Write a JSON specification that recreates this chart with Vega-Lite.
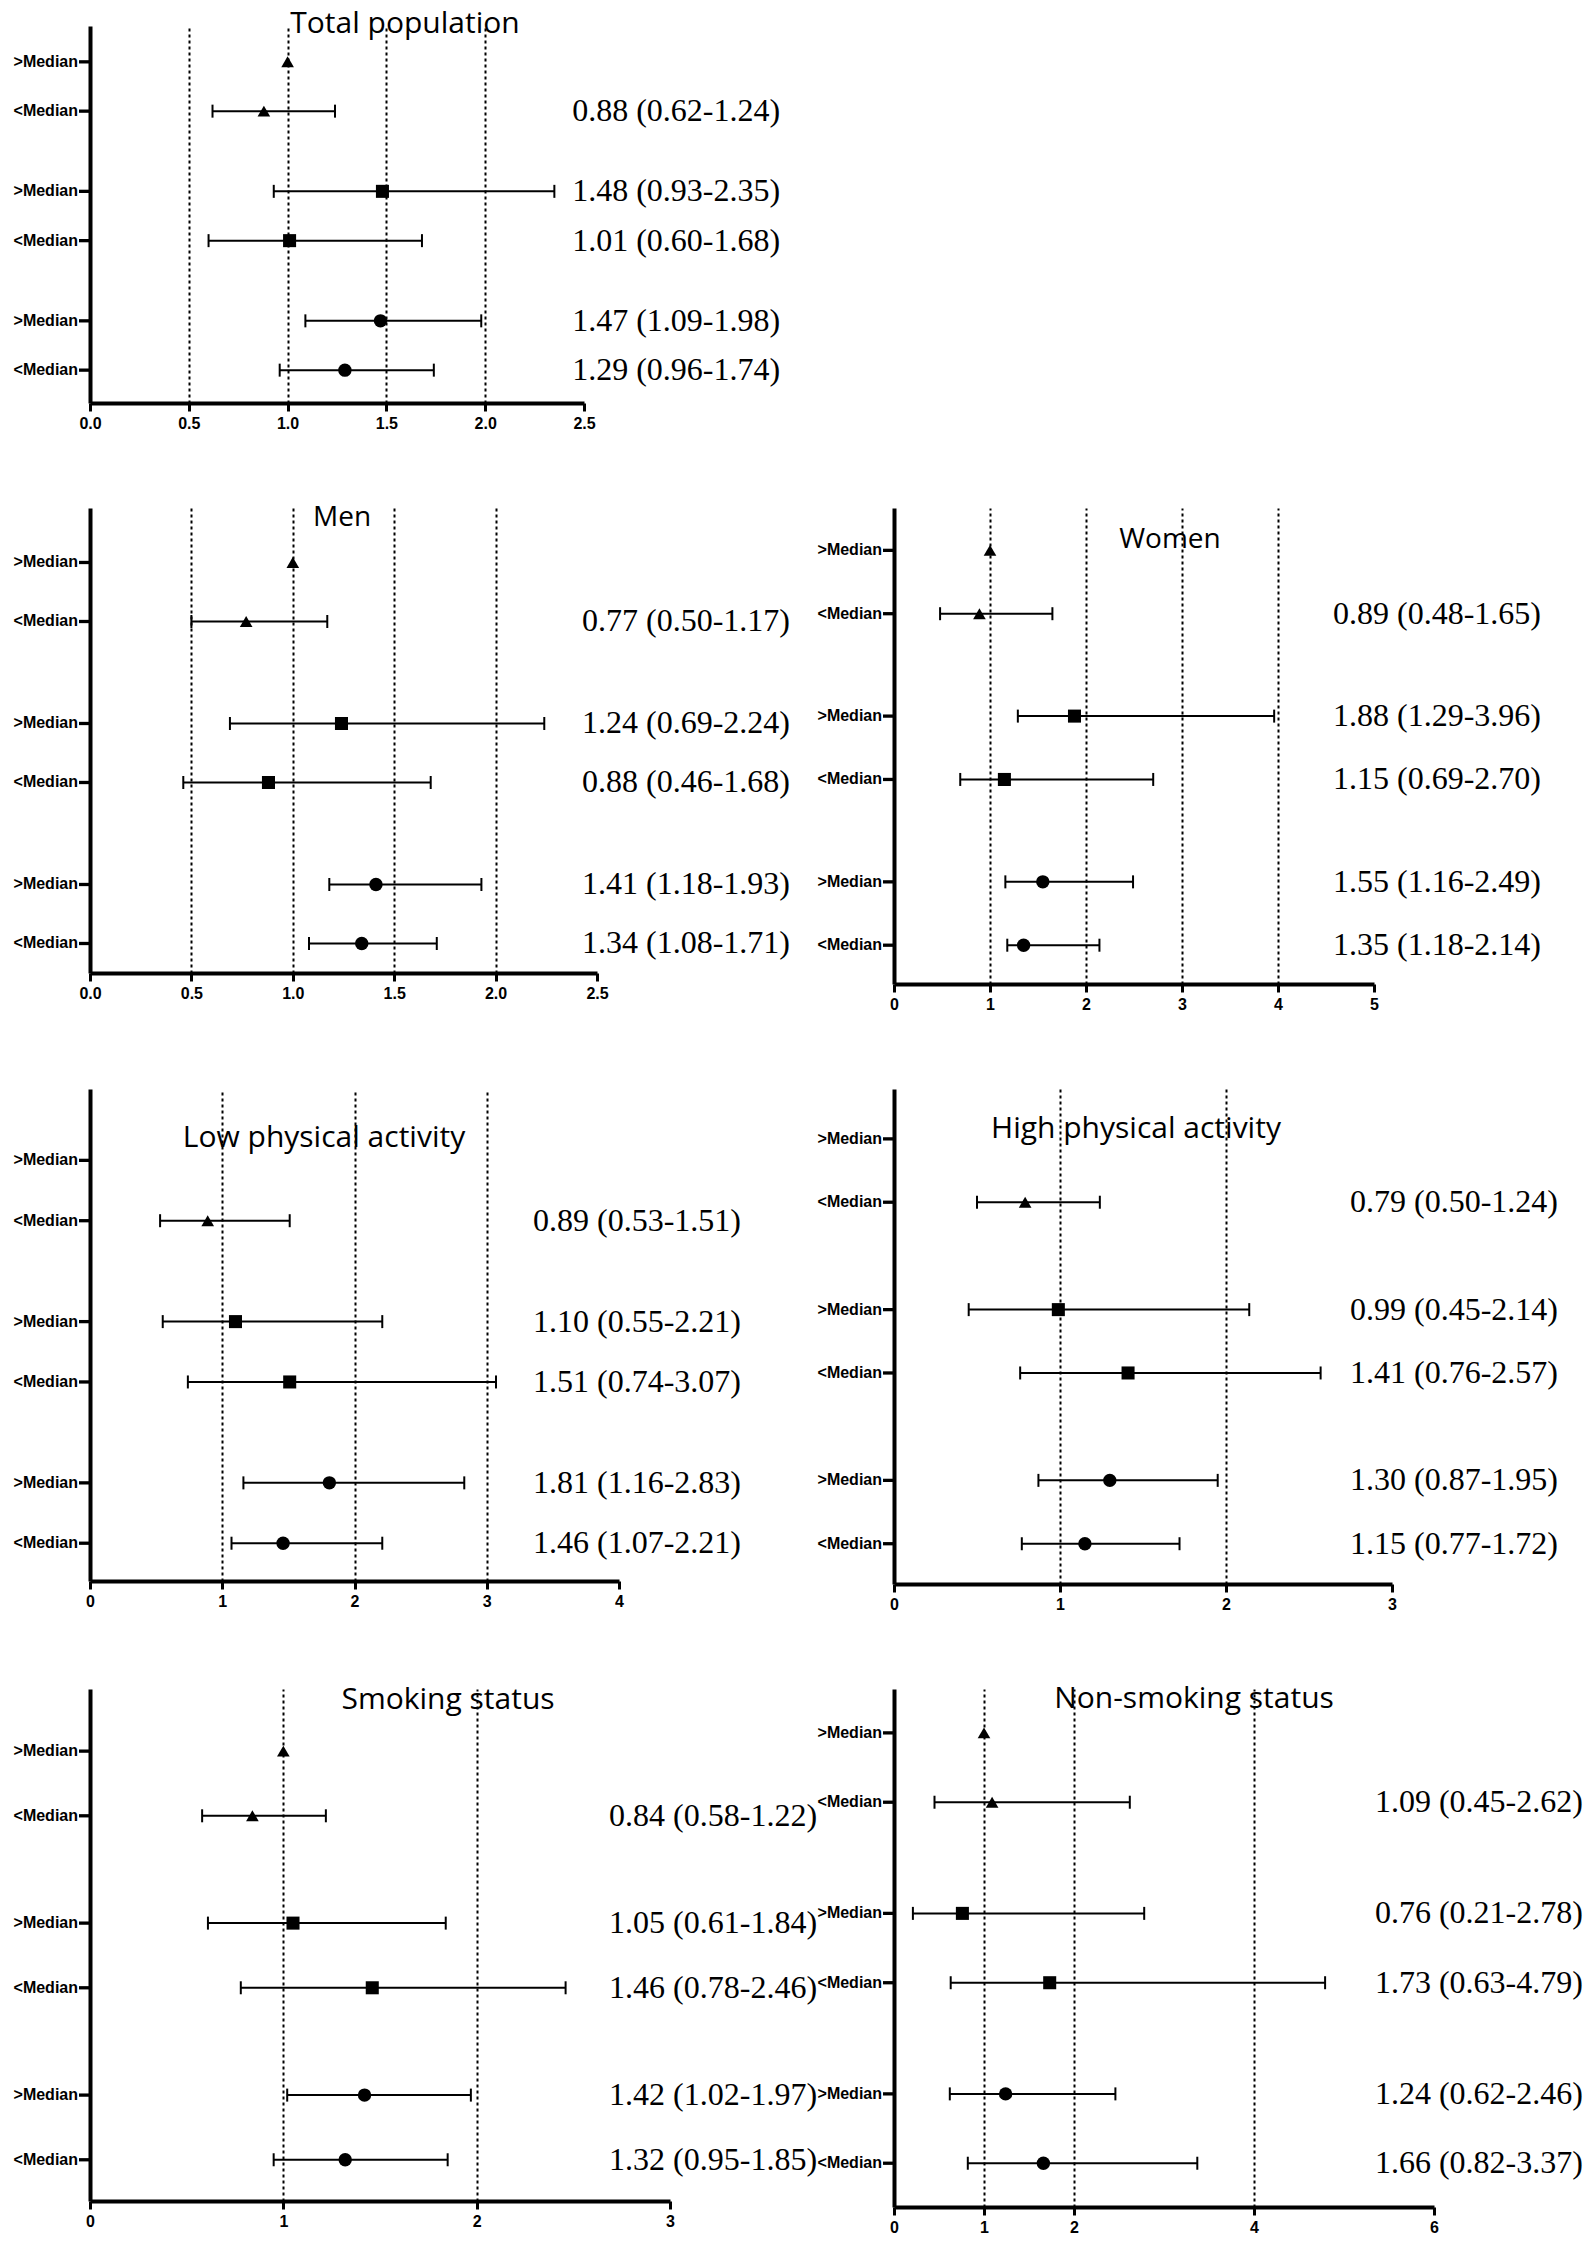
{
  "$schema": "https://vega.github.io/schema/vega-lite/v6.json",
  "background": "white",
  "padding": {"left": 13, "top": 9, "right": 4, "bottom": 4},
  "bounds": "flush",
  "columns": 2,
  "spacing": {"row": 105, "column": 224},
  "resolve": {"scale": {"y": "independent", "yOffset": "independent", "x": "independent"}},
  "config": {"view": {"stroke": null}},
  "datasets": {
    "d": [
      {"panel": "Total population", "group": "G1", "label": ">Median", "or": 1, "lo": null, "hi": null, "txt": null},
      {"panel": "Total population", "group": "G1", "label": "<Median", "or": 0.88, "lo": 0.62, "hi": 1.24, "txt": "0.88 (0.62-1.24)"},
      {"panel": "Total population", "group": "G2", "label": ">Median", "or": 1.48, "lo": 0.93, "hi": 2.35, "txt": "1.48 (0.93-2.35)"},
      {"panel": "Total population", "group": "G2", "label": "<Median", "or": 1.01, "lo": 0.60, "hi": 1.68, "txt": "1.01 (0.60-1.68)"},
      {"panel": "Total population", "group": "G3", "label": ">Median", "or": 1.47, "lo": 1.09, "hi": 1.98, "txt": "1.47 (1.09-1.98)"},
      {"panel": "Total population", "group": "G3", "label": "<Median", "or": 1.29, "lo": 0.96, "hi": 1.74, "txt": "1.29 (0.96-1.74)"},
      {"panel": "Men", "group": "G1", "label": ">Median", "or": 1, "lo": null, "hi": null, "txt": null},
      {"panel": "Men", "group": "G1", "label": "<Median", "or": 0.77, "lo": 0.50, "hi": 1.17, "txt": "0.77 (0.50-1.17)"},
      {"panel": "Men", "group": "G2", "label": ">Median", "or": 1.24, "lo": 0.69, "hi": 2.24, "txt": "1.24 (0.69-2.24)"},
      {"panel": "Men", "group": "G2", "label": "<Median", "or": 0.88, "lo": 0.46, "hi": 1.68, "txt": "0.88 (0.46-1.68)"},
      {"panel": "Men", "group": "G3", "label": ">Median", "or": 1.41, "lo": 1.18, "hi": 1.93, "txt": "1.41 (1.18-1.93)"},
      {"panel": "Men", "group": "G3", "label": "<Median", "or": 1.34, "lo": 1.08, "hi": 1.71, "txt": "1.34 (1.08-1.71)"},
      {"panel": "Women", "group": "G1", "label": ">Median", "or": 1, "lo": null, "hi": null, "txt": null},
      {"panel": "Women", "group": "G1", "label": "<Median", "or": 0.89, "lo": 0.48, "hi": 1.65, "txt": "0.89 (0.48-1.65)"},
      {"panel": "Women", "group": "G2", "label": ">Median", "or": 1.88, "lo": 1.29, "hi": 3.96, "txt": "1.88 (1.29-3.96)"},
      {"panel": "Women", "group": "G2", "label": "<Median", "or": 1.15, "lo": 0.69, "hi": 2.70, "txt": "1.15 (0.69-2.70)"},
      {"panel": "Women", "group": "G3", "label": ">Median", "or": 1.55, "lo": 1.16, "hi": 2.49, "txt": "1.55 (1.16-2.49)"},
      {"panel": "Women", "group": "G3", "label": "<Median", "or": 1.35, "lo": 1.18, "hi": 2.14, "txt": "1.35 (1.18-2.14)"},
      {"panel": "Low physical activity", "group": "G1", "label": ">Median", "or": null, "lo": null, "hi": null, "txt": null},
      {"panel": "Low physical activity", "group": "G1", "label": "<Median", "or": 0.89, "lo": 0.53, "hi": 1.51, "txt": "0.89 (0.53-1.51)"},
      {"panel": "Low physical activity", "group": "G2", "label": ">Median", "or": 1.10, "lo": 0.55, "hi": 2.21, "txt": "1.10 (0.55-2.21)"},
      {"panel": "Low physical activity", "group": "G2", "label": "<Median", "or": 1.51, "lo": 0.74, "hi": 3.07, "txt": "1.51 (0.74-3.07)"},
      {"panel": "Low physical activity", "group": "G3", "label": ">Median", "or": 1.81, "lo": 1.16, "hi": 2.83, "txt": "1.81 (1.16-2.83)"},
      {"panel": "Low physical activity", "group": "G3", "label": "<Median", "or": 1.46, "lo": 1.07, "hi": 2.21, "txt": "1.46 (1.07-2.21)"},
      {"panel": "High physical activity", "group": "G1", "label": ">Median", "or": null, "lo": null, "hi": null, "txt": null},
      {"panel": "High physical activity", "group": "G1", "label": "<Median", "or": 0.79, "lo": 0.50, "hi": 1.24, "txt": "0.79 (0.50-1.24)"},
      {"panel": "High physical activity", "group": "G2", "label": ">Median", "or": 0.99, "lo": 0.45, "hi": 2.14, "txt": "0.99 (0.45-2.14)"},
      {"panel": "High physical activity", "group": "G2", "label": "<Median", "or": 1.41, "lo": 0.76, "hi": 2.57, "txt": "1.41 (0.76-2.57)"},
      {"panel": "High physical activity", "group": "G3", "label": ">Median", "or": 1.30, "lo": 0.87, "hi": 1.95, "txt": "1.30 (0.87-1.95)"},
      {"panel": "High physical activity", "group": "G3", "label": "<Median", "or": 1.15, "lo": 0.77, "hi": 1.72, "txt": "1.15 (0.77-1.72)"},
      {"panel": "Smoking status", "group": "G1", "label": ">Median", "or": 1, "lo": null, "hi": null, "txt": null},
      {"panel": "Smoking status", "group": "G1", "label": "<Median", "or": 0.84, "lo": 0.58, "hi": 1.22, "txt": "0.84 (0.58-1.22)"},
      {"panel": "Smoking status", "group": "G2", "label": ">Median", "or": 1.05, "lo": 0.61, "hi": 1.84, "txt": "1.05 (0.61-1.84)"},
      {"panel": "Smoking status", "group": "G2", "label": "<Median", "or": 1.46, "lo": 0.78, "hi": 2.46, "txt": "1.46 (0.78-2.46)"},
      {"panel": "Smoking status", "group": "G3", "label": ">Median", "or": 1.42, "lo": 1.02, "hi": 1.97, "txt": "1.42 (1.02-1.97)"},
      {"panel": "Smoking status", "group": "G3", "label": "<Median", "or": 1.32, "lo": 0.95, "hi": 1.85, "txt": "1.32 (0.95-1.85)"},
      {"panel": "Non-smoking status", "group": "G1", "label": ">Median", "or": 1, "lo": null, "hi": null, "txt": null},
      {"panel": "Non-smoking status", "group": "G1", "label": "<Median", "or": 1.09, "lo": 0.45, "hi": 2.62, "txt": "1.09 (0.45-2.62)"},
      {"panel": "Non-smoking status", "group": "G2", "label": ">Median", "or": 0.76, "lo": 0.21, "hi": 2.78, "txt": "0.76 (0.21-2.78)"},
      {"panel": "Non-smoking status", "group": "G2", "label": "<Median", "or": 1.73, "lo": 0.63, "hi": 4.79, "txt": "1.73 (0.63-4.79)"},
      {"panel": "Non-smoking status", "group": "G3", "label": ">Median", "or": 1.24, "lo": 0.62, "hi": 2.46, "txt": "1.24 (0.62-2.46)"},
      {"panel": "Non-smoking status", "group": "G3", "label": "<Median", "or": 1.66, "lo": 0.82, "hi": 3.37, "txt": "1.66 (0.82-3.37)"}
    ]
  },
  "concat": [
    {
      "width": 494, "height": 377,
      "title": {"text": "Total population", "font": "Open Sans", "fontSize": 30, "fontWeight": "normal", "color": "black", "anchor": "middle", "frame": "group", "dx": 68, "offset": -37, "baseline": "alphabetic"},
      "data": {"name": "d"},
      "transform": [{"filter": "datum.panel == 'Total population'"}],
      "encoding": {
        "y": {"field": "group", "type": "nominal", "sort": ["G1", "G2", "G3"], "scale": {"paddingInner": 0.2386, "paddingOuter": 0.0749, "align": 0.577}, "axis": {"title": null, "labels": false, "ticks": false, "grid": false, "domainWidth": 4, "domainColor": "black"}},
        "yOffset": {"field": "label", "type": "nominal", "sort": [">Median", "<Median"], "scale": {"paddingInner": 0, "paddingOuter": 0}}
      },
      "layer": [
        {"mark": {"type": "rule", "strokeWidth": 2, "color": "black"}, "transform": [{"filter": "datum.lo != null"}],
         "encoding": {"x": {"field": "lo", "type": "quantitative", "scale": {"domain": [0, 2.5], "nice": false, "zero": false},
           "axis": {"title": null, "values": [0, 0.5, 1, 1.5, 2, 2.5], "format": ".1f", "domainWidth": 4, "domainColor": "black", "tickWidth": 3, "tickSize": 8, "tickColor": "black", "labelFont": "Liberation Sans", "labelFontWeight": "bold", "labelFontSize": 16, "labelColor": "black", "labelPadding": 4, "labelFlush": false, "labelOverlap": false, "grid": true, "gridDash": [3, 3], "gridWidth": 2, "gridColor": "black", "gridOpacity": {"condition": {"test": "datum.value == 0 || datum.value == 2.5", "value": 0}, "value": 1}}},
           "x2": {"field": "hi"}}},
        {"mark": {"type": "tick", "thickness": 2, "size": 13, "color": "black", "opacity": 1}, "transform": [{"filter": "datum.lo != null"}], "encoding": {"x": {"field": "lo", "type": "quantitative"}}},
        {"mark": {"type": "tick", "thickness": 2, "size": 13, "color": "black", "opacity": 1}, "transform": [{"filter": "datum.hi != null"}], "encoding": {"x": {"field": "hi", "type": "quantitative"}}},
        {"mark": {"type": "point", "filled": true, "opacity": 1, "color": "black"}, "transform": [{"filter": "datum.or != null"}],
         "encoding": {"x": {"field": "or", "type": "quantitative"},
           "shape": {"field": "group", "type": "nominal", "scale": {"domain": ["G1", "G2", "G3"], "range": ["triangle-up", "square", "circle"]}, "legend": null},
           "size": {"field": "group", "type": "ordinal", "scale": {"domain": ["G1", "G2", "G3"], "range": [160, 180, 160]}, "legend": null}}},
        {"mark": {"type": "text", "font": "Liberation Serif", "fontSize": 32, "align": "left", "baseline": "middle", "color": "black"}, "transform": [{"filter": "datum.txt != null"}],
         "encoding": {"x": {"datum": 2.44}, "text": {"field": "txt", "type": "nominal"}}},
        {"mark": {"type": "text", "font": "Liberation Sans", "fontWeight": "bold", "fontSize": 16, "align": "right", "baseline": "middle", "dx": -12, "color": "black"},
         "encoding": {"x": {"datum": 0}, "text": {"field": "label", "type": "nominal"}}},
        {"mark": {"type": "point", "shape": "M-2,-0.3H0V0.3H-2Z", "size": 121, "filled": true, "opacity": 1, "color": "black", "strokeWidth": 0},
         "encoding": {"x": {"datum": 0}}}
      ]
    },
    {
      "width": 10, "height": 10,
      "data": {"values": []},
      "mark": {"type": "point", "opacity": 0},
      "encoding": {}
    },
    {
      "width": 507, "height": 465,
      "title": {"text": "Men", "font": "Open Sans", "fontSize": 28, "fontWeight": "normal", "color": "black", "anchor": "middle", "frame": "group", "dx": -1.5, "offset": -46, "baseline": "alphabetic"},
      "data": {"name": "d"},
      "transform": [{"filter": "datum.panel == 'Men'"}],
      "encoding": {
        "y": {"field": "group", "type": "nominal", "sort": ["G1", "G2", "G3"], "scale": {"paddingInner": 0.267, "paddingOuter": 0.0776, "align": 1}, "axis": {"title": null, "labels": false, "ticks": false, "grid": false, "domainWidth": 4, "domainColor": "black"}},
        "yOffset": {"field": "label", "type": "nominal", "sort": [">Median", "<Median"], "scale": {"paddingInner": 0, "paddingOuter": 0}}
      },
      "layer": [
        {"mark": {"type": "rule", "strokeWidth": 2, "color": "black"}, "transform": [{"filter": "datum.lo != null"}],
         "encoding": {"x": {"field": "lo", "type": "quantitative", "scale": {"domain": [0, 2.5], "nice": false, "zero": false},
           "axis": {"title": null, "values": [0, 0.5, 1, 1.5, 2, 2.5], "format": ".1f", "domainWidth": 4, "domainColor": "black", "tickWidth": 3, "tickSize": 8, "tickColor": "black", "labelFont": "Liberation Sans", "labelFontWeight": "bold", "labelFontSize": 16, "labelColor": "black", "labelPadding": 4, "labelFlush": false, "labelOverlap": false, "grid": true, "gridDash": [3, 3], "gridWidth": 2, "gridColor": "black", "gridOpacity": {"condition": {"test": "datum.value == 0 || datum.value == 2.5", "value": 0}, "value": 1}}},
           "x2": {"field": "hi"}}},
        {"mark": {"type": "tick", "thickness": 2, "size": 13, "color": "black", "opacity": 1}, "transform": [{"filter": "datum.lo != null"}], "encoding": {"x": {"field": "lo", "type": "quantitative"}}},
        {"mark": {"type": "tick", "thickness": 2, "size": 13, "color": "black", "opacity": 1}, "transform": [{"filter": "datum.hi != null"}], "encoding": {"x": {"field": "hi", "type": "quantitative"}}},
        {"mark": {"type": "point", "filled": true, "opacity": 1, "color": "black"}, "transform": [{"filter": "datum.or != null"}],
         "encoding": {"x": {"field": "or", "type": "quantitative"},
           "shape": {"field": "group", "type": "nominal", "scale": {"domain": ["G1", "G2", "G3"], "range": ["triangle-up", "square", "circle"]}, "legend": null},
           "size": {"field": "group", "type": "ordinal", "scale": {"domain": ["G1", "G2", "G3"], "range": [180, 200, 180]}, "legend": null}}},
        {"mark": {"type": "text", "font": "Liberation Serif", "fontSize": 32, "align": "left", "baseline": "middle", "color": "black"}, "transform": [{"filter": "datum.txt != null"}],
         "encoding": {"x": {"datum": 2.426}, "text": {"field": "txt", "type": "nominal"}}},
        {"mark": {"type": "text", "font": "Liberation Sans", "fontWeight": "bold", "fontSize": 16, "align": "right", "baseline": "middle", "dx": -12, "color": "black"},
         "encoding": {"x": {"datum": 0}, "text": {"field": "label", "type": "nominal"}}},
        {"mark": {"type": "point", "shape": "M-2,-0.3H0V0.3H-2Z", "size": 121, "filled": true, "opacity": 1, "color": "black", "strokeWidth": 0},
         "encoding": {"x": {"datum": 0}}}
      ]
    },
    {
      "width": 480, "height": 476,
      "title": {"text": "Women", "font": "Open Sans", "fontSize": 28, "fontWeight": "normal", "color": "black", "anchor": "middle", "frame": "group", "dx": 36, "offset": -68, "baseline": "alphabetic"},
      "data": {"name": "d"},
      "transform": [{"filter": "datum.panel == 'Women'"}],
      "encoding": {
        "y": {"field": "group", "type": "nominal", "sort": ["G1", "G2", "G3"], "scale": {"paddingInner": 0.2356, "paddingOuter": 0.0537, "align": 0.6}, "axis": {"title": null, "labels": false, "ticks": false, "grid": false, "domainWidth": 4, "domainColor": "black"}},
        "yOffset": {"field": "label", "type": "nominal", "sort": [">Median", "<Median"], "scale": {"paddingInner": 0, "paddingOuter": 0}}
      },
      "layer": [
        {"mark": {"type": "rule", "strokeWidth": 2, "color": "black"}, "transform": [{"filter": "datum.lo != null"}],
         "encoding": {"x": {"field": "lo", "type": "quantitative", "scale": {"domain": [0, 5], "nice": false, "zero": false},
           "axis": {"title": null, "values": [0, 1, 2, 3, 4, 5], "format": "d", "domainWidth": 4, "domainColor": "black", "tickWidth": 3, "tickSize": 8, "tickColor": "black", "labelFont": "Liberation Sans", "labelFontWeight": "bold", "labelFontSize": 16, "labelColor": "black", "labelPadding": 4, "labelFlush": false, "labelOverlap": false, "grid": true, "gridDash": [3, 3], "gridWidth": 2, "gridColor": "black", "gridOpacity": {"condition": {"test": "datum.value == 0 || datum.value == 5", "value": 0}, "value": 1}}},
           "x2": {"field": "hi"}}},
        {"mark": {"type": "tick", "thickness": 2, "size": 13, "color": "black", "opacity": 1}, "transform": [{"filter": "datum.lo != null"}], "encoding": {"x": {"field": "lo", "type": "quantitative"}}},
        {"mark": {"type": "tick", "thickness": 2, "size": 13, "color": "black", "opacity": 1}, "transform": [{"filter": "datum.hi != null"}], "encoding": {"x": {"field": "hi", "type": "quantitative"}}},
        {"mark": {"type": "point", "filled": true, "opacity": 1, "color": "black"}, "transform": [{"filter": "datum.or != null"}],
         "encoding": {"x": {"field": "or", "type": "quantitative"},
           "shape": {"field": "group", "type": "nominal", "scale": {"domain": ["G1", "G2", "G3"], "range": ["triangle-up", "square", "circle"]}, "legend": null},
           "size": {"field": "group", "type": "ordinal", "scale": {"domain": ["G1", "G2", "G3"], "range": [170, 200, 180]}, "legend": null}}},
        {"mark": {"type": "text", "font": "Liberation Serif", "fontSize": 32, "align": "left", "baseline": "middle", "color": "black"}, "transform": [{"filter": "datum.txt != null"}],
         "encoding": {"x": {"datum": 4.573}, "text": {"field": "txt", "type": "nominal"}}},
        {"mark": {"type": "text", "font": "Liberation Sans", "fontWeight": "bold", "fontSize": 16, "align": "right", "baseline": "middle", "dx": -12, "color": "black"},
         "encoding": {"x": {"datum": 0}, "text": {"field": "label", "type": "nominal"}}},
        {"mark": {"type": "point", "shape": "M-2,-0.3H0V0.3H-2Z", "size": 121, "filled": true, "opacity": 1, "color": "black", "strokeWidth": 0},
         "encoding": {"x": {"datum": 0}}}
      ]
    },
    {
      "width": 529, "height": 492,
      "title": {"text": "Low physical activity", "font": "Open Sans", "fontSize": 30, "fontWeight": "normal", "color": "black", "anchor": "middle", "frame": "group", "dx": -30.5, "offset": -88, "baseline": "alphabetic"},
      "data": {"name": "d"},
      "transform": [{"filter": "datum.panel == 'Low physical activity'"}],
      "encoding": {
        "y": {"field": "group", "type": "nominal", "sort": ["G1", "G2", "G3"], "scale": {"paddingInner": 0.2515, "paddingOuter": 0.1513, "align": 0.844}, "axis": {"title": null, "labels": false, "ticks": false, "grid": false, "domainWidth": 4, "domainColor": "black"}},
        "yOffset": {"field": "label", "type": "nominal", "sort": [">Median", "<Median"], "scale": {"paddingInner": 0, "paddingOuter": 0}}
      },
      "layer": [
        {"mark": {"type": "rule", "strokeWidth": 2, "color": "black"}, "transform": [{"filter": "datum.lo != null"}],
         "encoding": {"x": {"field": "lo", "type": "quantitative", "scale": {"domain": [0, 4], "nice": false, "zero": false},
           "axis": {"title": null, "values": [0, 1, 2, 3, 4], "format": "d", "domainWidth": 4, "domainColor": "black", "tickWidth": 3, "tickSize": 8, "tickColor": "black", "labelFont": "Liberation Sans", "labelFontWeight": "bold", "labelFontSize": 16, "labelColor": "black", "labelPadding": 4, "labelFlush": false, "labelOverlap": false, "grid": true, "gridDash": [3, 3], "gridWidth": 2, "gridColor": "black", "gridOpacity": {"condition": {"test": "datum.value == 0 || datum.value == 4", "value": 0}, "value": 1}}},
           "x2": {"field": "hi"}}},
        {"mark": {"type": "tick", "thickness": 2, "size": 13, "color": "black", "opacity": 1}, "transform": [{"filter": "datum.lo != null"}], "encoding": {"x": {"field": "lo", "type": "quantitative"}}},
        {"mark": {"type": "tick", "thickness": 2, "size": 13, "color": "black", "opacity": 1}, "transform": [{"filter": "datum.hi != null"}], "encoding": {"x": {"field": "hi", "type": "quantitative"}}},
        {"mark": {"type": "point", "filled": true, "opacity": 1, "color": "black"}, "transform": [{"filter": "datum.or != null"}],
         "encoding": {"x": {"field": "or", "type": "quantitative"},
           "shape": {"field": "group", "type": "nominal", "scale": {"domain": ["G1", "G2", "G3"], "range": ["triangle-up", "square", "circle"]}, "legend": null},
           "size": {"field": "group", "type": "ordinal", "scale": {"domain": ["G1", "G2", "G3"], "range": [160, 180, 170]}, "legend": null}}},
        {"mark": {"type": "text", "font": "Liberation Serif", "fontSize": 32, "align": "left", "baseline": "middle", "color": "black"}, "transform": [{"filter": "datum.txt != null"}],
         "encoding": {"x": {"datum": 3.35}, "text": {"field": "txt", "type": "nominal"}}},
        {"mark": {"type": "text", "font": "Liberation Sans", "fontWeight": "bold", "fontSize": 16, "align": "right", "baseline": "middle", "dx": -12, "color": "black"},
         "encoding": {"x": {"datum": 0}, "text": {"field": "label", "type": "nominal"}}},
        {"mark": {"type": "point", "shape": "M-2,-0.3H0V0.3H-2Z", "size": 121, "filled": true, "opacity": 1, "color": "black", "strokeWidth": 0},
         "encoding": {"x": {"datum": 0}}}
      ]
    },
    {
      "width": 498, "height": 495,
      "title": {"text": "High physical activity", "font": "Open Sans", "fontSize": 30, "fontWeight": "normal", "color": "black", "anchor": "middle", "frame": "group", "dx": -7, "offset": -79, "baseline": "alphabetic"},
      "data": {"name": "d"},
      "transform": [{"filter": "datum.panel == 'High physical activity'"}],
      "encoding": {
        "y": {"field": "group", "type": "nominal", "sort": ["G1", "G2", "G3"], "scale": {"paddingInner": 0.258, "paddingOuter": 0.0785, "align": 0.679}, "axis": {"title": null, "labels": false, "ticks": false, "grid": false, "domainWidth": 4, "domainColor": "black"}},
        "yOffset": {"field": "label", "type": "nominal", "sort": [">Median", "<Median"], "scale": {"paddingInner": 0, "paddingOuter": 0}}
      },
      "layer": [
        {"mark": {"type": "rule", "strokeWidth": 2, "color": "black"}, "transform": [{"filter": "datum.lo != null"}],
         "encoding": {"x": {"field": "lo", "type": "quantitative", "scale": {"domain": [0, 3], "nice": false, "zero": false},
           "axis": {"title": null, "values": [0, 1, 2, 3], "format": "d", "domainWidth": 4, "domainColor": "black", "tickWidth": 3, "tickSize": 8, "tickColor": "black", "labelFont": "Liberation Sans", "labelFontWeight": "bold", "labelFontSize": 16, "labelColor": "black", "labelPadding": 4, "labelFlush": false, "labelOverlap": false, "grid": true, "gridDash": [3, 3], "gridWidth": 2, "gridColor": "black", "gridOpacity": {"condition": {"test": "datum.value == 0 || datum.value == 3", "value": 0}, "value": 1}}},
           "x2": {"field": "hi"}}},
        {"mark": {"type": "tick", "thickness": 2, "size": 13, "color": "black", "opacity": 1}, "transform": [{"filter": "datum.lo != null"}], "encoding": {"x": {"field": "lo", "type": "quantitative"}}},
        {"mark": {"type": "tick", "thickness": 2, "size": 13, "color": "black", "opacity": 1}, "transform": [{"filter": "datum.hi != null"}], "encoding": {"x": {"field": "hi", "type": "quantitative"}}},
        {"mark": {"type": "point", "filled": true, "opacity": 1, "color": "black"}, "transform": [{"filter": "datum.or != null"}],
         "encoding": {"x": {"field": "or", "type": "quantitative"},
           "shape": {"field": "group", "type": "nominal", "scale": {"domain": ["G1", "G2", "G3"], "range": ["triangle-up", "square", "circle"]}, "legend": null},
           "size": {"field": "group", "type": "ordinal", "scale": {"domain": ["G1", "G2", "G3"], "range": [160, 190, 170]}, "legend": null}}},
        {"mark": {"type": "text", "font": "Liberation Serif", "fontSize": 32, "align": "left", "baseline": "middle", "color": "black"}, "transform": [{"filter": "datum.txt != null"}],
         "encoding": {"x": {"datum": 2.747}, "text": {"field": "txt", "type": "nominal"}}},
        {"mark": {"type": "text", "font": "Liberation Sans", "fontWeight": "bold", "fontSize": 16, "align": "right", "baseline": "middle", "dx": -12, "color": "black"},
         "encoding": {"x": {"datum": 0}, "text": {"field": "label", "type": "nominal"}}},
        {"mark": {"type": "point", "shape": "M-2,-0.3H0V0.3H-2Z", "size": 121, "filled": true, "opacity": 1, "color": "black", "strokeWidth": 0},
         "encoding": {"x": {"datum": 0}}}
      ]
    },
    {
      "width": 580, "height": 512,
      "title": {"text": "Smoking status", "font": "Open Sans", "fontSize": 30, "fontWeight": "normal", "color": "black", "anchor": "middle", "frame": "group", "dx": 68, "offset": -50, "baseline": "alphabetic"},
      "data": {"name": "d"},
      "transform": [{"filter": "datum.panel == 'Smoking status'"}],
      "encoding": {
        "y": {"field": "group", "type": "nominal", "sort": ["G1", "G2", "G3"], "scale": {"paddingInner": 0.248, "paddingOuter": 0.1125, "align": 0.77}, "axis": {"title": null, "labels": false, "ticks": false, "grid": false, "domainWidth": 4, "domainColor": "black"}},
        "yOffset": {"field": "label", "type": "nominal", "sort": [">Median", "<Median"], "scale": {"paddingInner": 0, "paddingOuter": 0}}
      },
      "layer": [
        {"mark": {"type": "rule", "strokeWidth": 2, "color": "black"}, "transform": [{"filter": "datum.lo != null"}],
         "encoding": {"x": {"field": "lo", "type": "quantitative", "scale": {"domain": [0, 3], "nice": false, "zero": false},
           "axis": {"title": null, "values": [0, 1, 2, 3], "format": "d", "domainWidth": 4, "domainColor": "black", "tickWidth": 3, "tickSize": 8, "tickColor": "black", "labelFont": "Liberation Sans", "labelFontWeight": "bold", "labelFontSize": 16, "labelColor": "black", "labelPadding": 4, "labelFlush": false, "labelOverlap": false, "grid": true, "gridDash": [3, 3], "gridWidth": 2, "gridColor": "black", "gridOpacity": {"condition": {"test": "datum.value == 0 || datum.value == 3", "value": 0}, "value": 1}}},
           "x2": {"field": "hi"}}},
        {"mark": {"type": "tick", "thickness": 2, "size": 13, "color": "black", "opacity": 1}, "transform": [{"filter": "datum.lo != null"}], "encoding": {"x": {"field": "lo", "type": "quantitative"}}},
        {"mark": {"type": "tick", "thickness": 2, "size": 13, "color": "black", "opacity": 1}, "transform": [{"filter": "datum.hi != null"}], "encoding": {"x": {"field": "hi", "type": "quantitative"}}},
        {"mark": {"type": "point", "filled": true, "opacity": 1, "color": "black"}, "transform": [{"filter": "datum.or != null"}],
         "encoding": {"x": {"field": "or", "type": "quantitative"},
           "shape": {"field": "group", "type": "nominal", "scale": {"domain": ["G1", "G2", "G3"], "range": ["triangle-up", "square", "circle"]}, "legend": null},
           "size": {"field": "group", "type": "ordinal", "scale": {"domain": ["G1", "G2", "G3"], "range": [170, 190, 170]}, "legend": null}}},
        {"mark": {"type": "text", "font": "Liberation Serif", "fontSize": 32, "align": "left", "baseline": "middle", "color": "black"}, "transform": [{"filter": "datum.txt != null"}],
         "encoding": {"x": {"datum": 2.685}, "text": {"field": "txt", "type": "nominal"}}},
        {"mark": {"type": "text", "font": "Liberation Sans", "fontWeight": "bold", "fontSize": 16, "align": "right", "baseline": "middle", "dx": -12, "color": "black"},
         "encoding": {"x": {"datum": 0}, "text": {"field": "label", "type": "nominal"}}},
        {"mark": {"type": "point", "shape": "M-2,-0.3H0V0.3H-2Z", "size": 121, "filled": true, "opacity": 1, "color": "black", "strokeWidth": 0},
         "encoding": {"x": {"datum": 0}}}
      ]
    },
    {
      "width": 540, "height": 518,
      "title": {"text": "Non-smoking status", "font": "Open Sans", "fontSize": 30, "fontWeight": "normal", "color": "black", "anchor": "middle", "frame": "group", "dx": 30, "offset": -49, "baseline": "alphabetic"},
      "data": {"name": "d"},
      "transform": [{"filter": "datum.panel == 'Non-smoking status'"}],
      "encoding": {
        "y": {"field": "group", "type": "nominal", "sort": ["G1", "G2", "G3"], "scale": {"paddingInner": 0.2316, "paddingOuter": 0.0507, "align": 0.503}, "axis": {"title": null, "labels": false, "ticks": false, "grid": false, "domainWidth": 4, "domainColor": "black"}},
        "yOffset": {"field": "label", "type": "nominal", "sort": [">Median", "<Median"], "scale": {"paddingInner": 0, "paddingOuter": 0}}
      },
      "layer": [
        {"mark": {"type": "rule", "strokeWidth": 2, "color": "black"}, "transform": [{"filter": "datum.lo != null"}],
         "encoding": {"x": {"field": "lo", "type": "quantitative", "scale": {"domain": [0, 6], "nice": false, "zero": false},
           "axis": {"title": null, "values": [0, 1, 2, 4, 6], "format": "d", "domainWidth": 4, "domainColor": "black", "tickWidth": 3, "tickSize": 8, "tickColor": "black", "labelFont": "Liberation Sans", "labelFontWeight": "bold", "labelFontSize": 16, "labelColor": "black", "labelPadding": 4, "labelFlush": false, "labelOverlap": false, "grid": true, "gridDash": [3, 3], "gridWidth": 2, "gridColor": "black", "gridOpacity": {"condition": {"test": "datum.value == 0 || datum.value == 6", "value": 0}, "value": 1}}},
           "x2": {"field": "hi"}}},
        {"mark": {"type": "tick", "thickness": 2, "size": 13, "color": "black", "opacity": 1}, "transform": [{"filter": "datum.lo != null"}], "encoding": {"x": {"field": "lo", "type": "quantitative"}}},
        {"mark": {"type": "tick", "thickness": 2, "size": 13, "color": "black", "opacity": 1}, "transform": [{"filter": "datum.hi != null"}], "encoding": {"x": {"field": "hi", "type": "quantitative"}}},
        {"mark": {"type": "point", "filled": true, "opacity": 1, "color": "black"}, "transform": [{"filter": "datum.or != null"}],
         "encoding": {"x": {"field": "or", "type": "quantitative"},
           "shape": {"field": "group", "type": "nominal", "scale": {"domain": ["G1", "G2", "G3"], "range": ["triangle-up", "square", "circle"]}, "legend": null},
           "size": {"field": "group", "type": "ordinal", "scale": {"domain": ["G1", "G2", "G3"], "range": [160, 180, 170]}, "legend": null}}},
        {"mark": {"type": "text", "font": "Liberation Serif", "fontSize": 32, "align": "left", "baseline": "middle", "color": "black"}, "transform": [{"filter": "datum.txt != null"}],
         "encoding": {"x": {"datum": 5.344}, "text": {"field": "txt", "type": "nominal"}}},
        {"mark": {"type": "text", "font": "Liberation Sans", "fontWeight": "bold", "fontSize": 16, "align": "right", "baseline": "middle", "dx": -12, "color": "black"},
         "encoding": {"x": {"datum": 0}, "text": {"field": "label", "type": "nominal"}}},
        {"mark": {"type": "point", "shape": "M-2,-0.3H0V0.3H-2Z", "size": 121, "filled": true, "opacity": 1, "color": "black", "strokeWidth": 0},
         "encoding": {"x": {"datum": 0}}}
      ]
    }
  ]
}
